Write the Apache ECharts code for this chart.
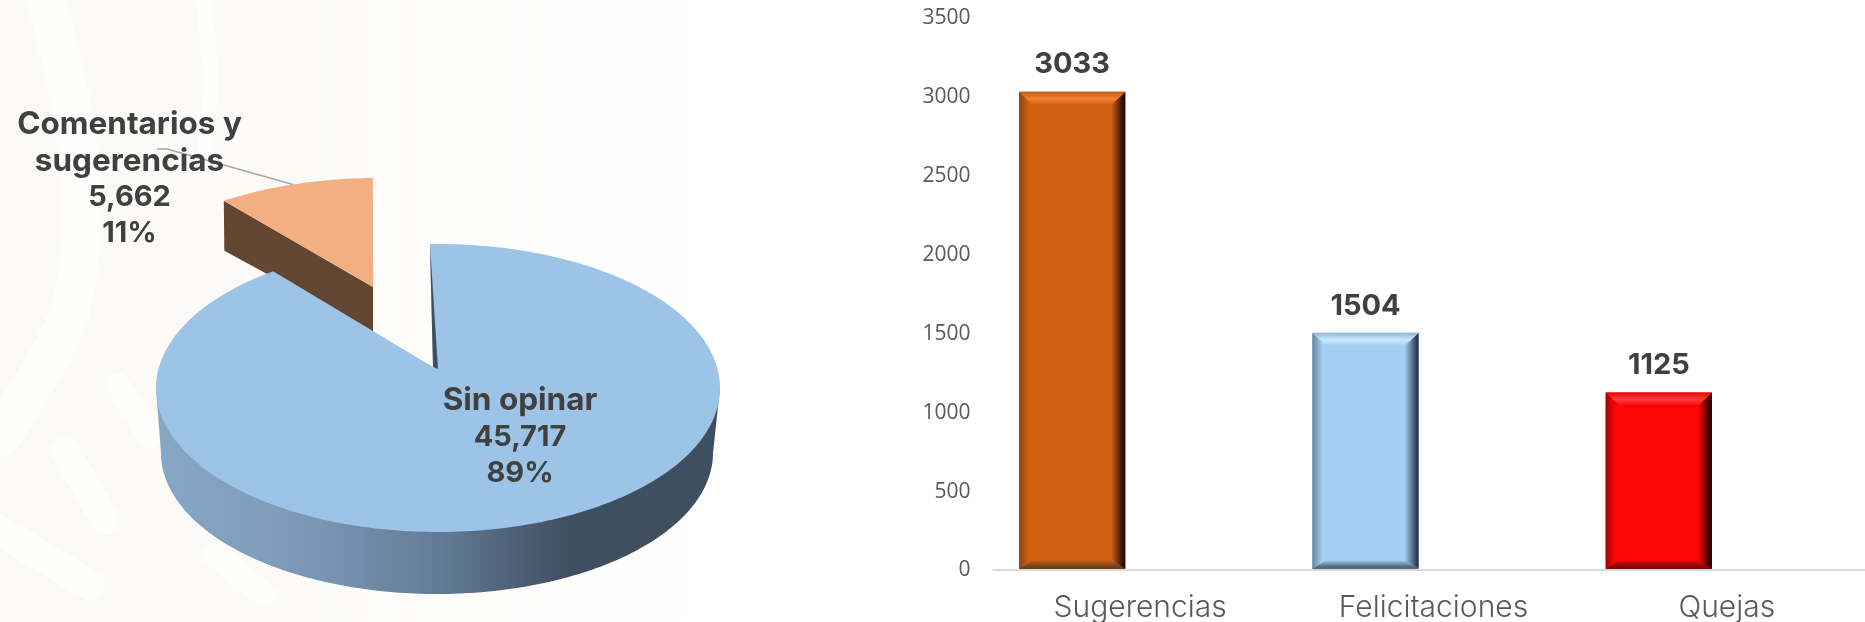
<!DOCTYPE html>
<html>
<head>
<meta charset="utf-8">
<style>
  html, body { margin: 0; padding: 0; background: #fff; }
  #chart { width: 1865px; height: 622px; }
</style>
<script src="https://cdn.jsdelivr.net/npm/echarts@6/dist/echarts.min.js"></script>
</head>
<body>
<div id="chart"></div>
<script>
// pie data, comentarios first so sin opinar paints over its wall
const pieNames = ["Comentarios y\nsugerencias", "Sin opinar"];
const pieValues = [5662, 45717];

// bar data
const barCategories = ["Sugerencias", "Felicitaciones", "Quejas"];
const barValues = [3033, 1504, 1125];
const yTicks = { min: 0, max: 3500, interval: 500 };

// bevel colours per bar
const barBase = ["#d06012", "#a6cdf3", "#ff0606"];
const barTop = ["#f58233", "#c8ecfe", "#ff3c3c"];
const barEdgeTop = ["#bf5a14", "#8fb3d3", "#e00808"];
const barLeft = ["#8c4510", "#66849e", "#a00404"];
const barRight = ["#241005", "#2f3f4e", "#300202"];
const barBottom = ["#6d3f1a", "#50697f", "#7a0a0a"];

const textDark = "#404040";
const nameFont = "700 31.5px Inter, 'Noto Sans', sans-serif";
const numberFont = "700 29px Inter, 'Noto Sans', sans-serif";

// tilted pie geometry, the two pieces are not the same size (perspective in the original)
const pieStart = -39.7;
const pieShapes = [
  { ax: 373, ay: 287, cx: 378, cy: 305, rx: 270, ry: 127, tilt: 0.48, rot: 0, fill: "#f3af81" },
  { ax: 433, ay: 367, cx: 438, cy: 388, rx: 282, ry: 144, tilt: 0.51, rot: -0.7, fill: "#9dc3e6" },
];
const pieLabels = [
  { x: 129.5, y: 125 },
  { x: 520, y: 401 },
];

// pale pattern behind the chart, [width, points]
const watermark = [
  [40, [[43, -10], [70, 100], [82, 210], [67, 320], [0, 437]]],
  [16, [[203, -10], [210, 80], [205, 150]]],
  [24, [[118, 385], [150, 437]]],
  [28, [[65, 450], [105, 520]]],
  [30, [[-10, 525], [90, 585]]],
  [24, [[215, 555], [265, 595]]],
];

function hitEllipse(s, deg) {
  const a = ((deg + s.rot) * Math.PI) / 180;
  const dx = Math.sin(a) / s.rx;
  const dy = (-Math.cos(a) * s.tilt) / s.ry;
  const ox = (s.ax - s.cx) / s.rx;
  const oy = (s.ay - s.cy) / s.ry;
  const A = dx * dx + dy * dy;
  const B = 2 * (dx * ox + dy * oy);
  const C = ox * ox + oy * oy - 1;
  const t = (-B + Math.sqrt(B * B - 4 * A * C)) / (2 * A);
  return [s.ax + Math.sin(a) * t, s.ay - Math.cos(a) * s.tilt * t];
}

function arcPoints(cx, cy, rx, ry, from, to) {
  const pts = [];
  const n = Math.max(8, Math.ceil(Math.abs(to - from) / 0.02));
  for (let i = 0; i <= n; i++) {
    const t = from + ((to - from) * i) / n;
    pts.push([cx + rx * Math.sin(t), cy - ry * Math.cos(t)]);
  }
  return pts;
}

function renderSlice(params, api) {
  const i = params.dataIndex;
  const s = pieShapes[i];
  const total = pieValues.reduce((a, b) => a + b, 0);
  let start = pieStart;
  for (let k = 0; k < i; k++) start += (pieValues[k] / total) * 360;
  const end = start + (api.value(0) / total) * 360;

  const p0 = hitEllipse(s, start);
  const p1 = hitEllipse(s, end);
  const t0 = Math.atan2((p0[0] - s.cx) / s.rx, -(p0[1] - s.cy) / s.ry);
  let t1 = Math.atan2((p1[0] - s.cx) / s.rx, -(p1[1] - s.cy) / s.ry);
  if (t1 <= t0) t1 += Math.PI * 2;

  const children = [];
  if (i === 0) {
    // flat cut face of the pulled out slice
    children.push({
      type: "polygon",
      shape: { points: [p0, [s.ax, s.ay], [s.ax, s.ay + 44.5], [p0[0] + 0.5, p0[1] + 50]] },
      style: { fill: "#634632" },
    });
  } else {
    // outer wall, slightly narrower at the bottom
    const wall = arcPoints(437, 453, 276, 141, Math.PI * 1.5, Math.PI * 0.5);
    children.push({
      type: "polygon",
      shape: { points: [[s.cx - s.rx, s.cy]].concat(wall, [[s.cx + s.rx, s.cy]]) },
      style: {
        fill: new echarts.graphic.LinearGradient(0, 0, 1, 0, [
          { offset: 0, color: "#87a7c7" },
          { offset: 0.25, color: "#7e9ab8" },
          { offset: 0.5, color: "#637c96" },
          { offset: 0.73, color: "#3e4f60" },
          { offset: 1, color: "#3e4f60" },
        ]),
      },
    });
  }
  children.push({
    type: "polygon",
    shape: { points: [[s.ax, s.ay]].concat(arcPoints(s.cx, s.cy, s.rx, s.ry, t0, t1)) },
    style: { fill: s.fill },
  });
  if (i === 0) {
    // leader line from the label to the slice
    children.push({
      type: "polyline",
      shape: { points: [[157, 149], [167, 149], [293, 184.5]] },
      style: { stroke: "#a6a6a6", lineWidth: 1.5, fill: null },
    });
  } else {
    children.push({
      type: "polygon",
      shape: { points: [p0, [s.ax + 5, s.ay + 2], [s.ax, s.ay]] },
      style: { fill: "#3e5060" },
    });
  }

  const pct = Math.round((api.value(0) / total) * 100) + "%";
  const value = api.value(0).toLocaleString("en-US");
  const names = pieNames[i].split("\n");
  names.concat([value, pct]).forEach((line, k) => {
    children.push({
      type: "text",
      z2: 10,
      style: {
        text: line,
        x: pieLabels[i].x,
        y: pieLabels[i].y + k * 36.2,
        align: "center",
        verticalAlign: "middle",
        fill: textDark,
        font: k < names.length ? nameFont : numberFont,
      },
    });
  });
  return { type: "group", children: children };
}

function grad(x0, y0, x1, y1, stops) {
  return new echarts.graphic.LinearGradient(
    x0, y0, x1, y1,
    stops.map((c) => ({ offset: c[0], color: c[1] }))
  );
}

function renderBar(params, api) {
  const i = params.dataIndex;
  const top = api.coord([i, api.value(1)]);
  const zero = api.coord([i, 0]);
  const band = api.size([1, 0])[0];
  // the original reserved a second empty column next to each bar
  const w = band * 0.3625;
  const x0 = top[0] - band * 0.2318 - w / 2;
  const x1 = x0 + w;
  const y0 = top[1];
  const y1 = zero[1] - 1;
  const bx = 14, bt = 13, bb = 9;

  const base = barBase[i];
  const poly = (pts, fill) => ({ type: "polygon", shape: { points: pts }, style: { fill: fill } });

  return {
    type: "group",
    children: [
      { type: "rect", shape: { x: x0, y: y0, width: w, height: y1 - y0 }, style: { fill: base } },
      poly([[x0, y0], [x0 + bx, y0 + bt], [x0 + bx, y1 - bb], [x0, y1]],
        grad(0, 0, 1, 0, [[0, barLeft[i]], [0.7, base], [1, base]])),
      poly([[x1, y0], [x1 - bx, y0 + bt], [x1 - bx, y1 - bb], [x1, y1]],
        grad(1, 0, 0, 0, [[0, barRight[i]], [0.15, barRight[i]], [1, base]])),
      poly([[x0, y0], [x1, y0], [x1 - bx, y0 + bt], [x0 + bx, y0 + bt]],
        grad(0, 0, 0, 1, [[0, barEdgeTop[i]], [0.55, barTop[i]], [1, base]])),
      poly([[x0, y1], [x1, y1], [x1 - bx, y1 - bb], [x0 + bx, y1 - bb]],
        grad(0, 1, 0, 0, [[0, barBottom[i]], [0.25, barBottom[i]], [1, base]])),
      {
        type: "text",
        style: {
          text: String(api.value(1)),
          x: (x0 + x1) / 2,
          y: y0 - 27,
          align: "center",
          verticalAlign: "middle",
          fill: textDark,
          font: numberFont,
        },
      },
    ],
  };
}

const myChart = echarts.init(document.getElementById("chart"), null, { renderer: "canvas" });
myChart.setOption({
  animation: false,
  backgroundColor: "#ffffff",
  graphic: [
    {
      type: "rect",
      silent: true,
      z: -2,
      shape: { x: 0, y: 0, width: 700, height: 622 },
      style: {
        fill: new echarts.graphic.LinearGradient(0, 0, 1, 0, [
          { offset: 0, color: "#faf9f6" },
          { offset: 0.4, color: "#fcfbf9" },
          { offset: 1, color: "#ffffff" },
        ]),
      },
    },
  ].concat(
    watermark.map((w) => ({
      type: "polyline",
      silent: true,
      z: -1,
      shape: { points: w[1], smooth: 0.3 },
      style: { stroke: "#fefefd", lineWidth: w[0], lineCap: "round", fill: null },
    }))
  ),
  // axis runs past the right edge of the page, v6 would clamp it otherwise
  grid: { left: 993.5, width: 880, top: 18, bottom: 52, outerBoundsMode: "none" },
  xAxis: {
    type: "category",
    data: barCategories,
    axisTick: { show: false },
    axisLine: { lineStyle: { color: "#d9d9d9", width: 2 } },
    axisLabel: {
      color: "#595959",
      fontFamily: "Inter, 'Noto Sans', sans-serif",
      fontWeight: 300,
      fontSize: 30,
      margin: 23,
    },
  },
  yAxis: {
    type: "value",
    min: yTicks.min,
    max: yTicks.max,
    interval: yTicks.interval,
    axisLine: { show: false },
    axisTick: { show: false },
    splitLine: { show: false },
    axisLabel: {
      color: "#595959",
      fontFamily: "'Open Sans', sans-serif",
      fontSize: 21,
      margin: 23,
      verticalAlign: "top",
      padding: [-10, 0, 0, 0],
      formatter: (v) => String(v),
    },
  },
  series: [
    {
      type: "custom",
      coordinateSystem: "none",
      silent: true,
      data: pieValues.map((v) => [v]),
      renderItem: renderSlice,
    },
    {
      type: "custom",
      coordinateSystem: "cartesian2d",
      silent: true,
      clip: false,
      encode: { x: 0, y: 1 },
      data: barValues.map((v, i) => [i, v]),
      renderItem: renderBar,
    },
  ],
});
window.addEventListener("resize", () => myChart.resize());
</script>
</body>
</html>
